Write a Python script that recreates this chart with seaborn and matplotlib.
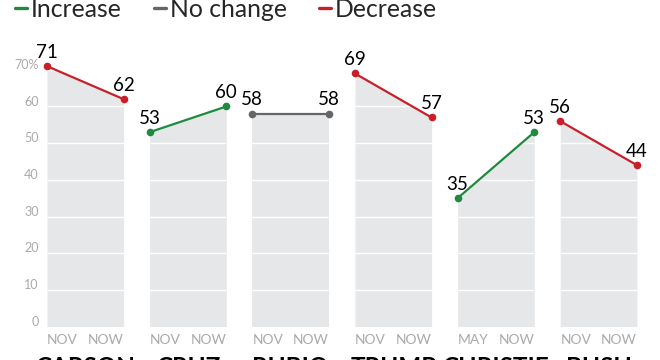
import seaborn as sns
import matplotlib.pyplot as plt
import pandas as pd
from matplotlib.lines import Line2D

# Data
candidates = ['CARSON', 'CRUZ', 'RUBIO', 'TRUMP', 'CHRISTIE', 'BUSH']
start_labels = ['NOV', 'NOV', 'NOV', 'NOV', 'MAY', 'NOV']
end_labels = ['NOW', 'NOW', 'NOW', 'NOW', 'NOW', 'NOW']
before = [71, 53, 58, 69, 35, 56]
now = [62, 60, 58, 57, 53, 44]
y_ticks = [0, 10, 20, 30, 40, 50, 60, 70]

colors = {'Increase': '#1f8a3f', 'No change': '#666666', 'Decrease': '#c8202a'}
fill_color = '#e6e7e9'
tick_color = '#aaaaaa'

rows = []
for name, a, b in zip(candidates, before, now):
    change = 'Increase' if b > a else ('Decrease' if b < a else 'No change')
    rows.append({'candidate': name, 'pos': 0, 'value': a, 'change': change})
    rows.append({'candidate': name, 'pos': 1, 'value': b, 'change': change})
df = pd.DataFrame(rows)

sns.set_style('white')
plt.rcParams['font.family'] = ['Lato', 'DejaVu Sans']

fig, axes = plt.subplots(1, 6, figsize=(6.6, 3.6), dpi=100, sharey=True)
fig.subplots_adjust(left=0.0712, right=0.965, bottom=0.093, top=0.857, wspace=0.34)

for i, (ax, name) in enumerate(zip(axes, candidates)):
    sub = df[df['candidate'] == name]
    change = sub['change'].iloc[0]
    ax.fill_between(sub['pos'], sub['value'], color=fill_color, lw=0, zorder=1)
    for v in y_ticks[1:]:
        ax.axhline(v, color='white', lw=1, zorder=2)
    sns.lineplot(data=sub, x='pos', y='value', color=colors[change], lw=1.6,
                 marker='o', markersize=5.5, markeredgewidth=0, ax=ax,
                 zorder=3, clip_on=False)
    for _, r in sub.iterrows():
        ax.annotate(f"{r['value']}", (r['pos'], r['value']), xytext=(0, 10),
                    textcoords='offset points', ha='center', va='center',
                    fontsize=13.5, color='black')
    ax.annotate(start_labels[i], (0, 0), xytext=(0, -10), textcoords='offset points',
                ha='left', va='center', fontsize=10, color=tick_color)
    ax.annotate(end_labels[i], (1, 0), xytext=(0, -10), textcoords='offset points',
                ha='right', va='center', fontsize=10, color=tick_color)
    ax.annotate(name, (0.5, 0), xytext=(0, -21.5), textcoords='offset points',
                ha='center', va='top', fontsize=17.5, fontweight='bold', color='black',
                annotation_clip=False)
    ax.set_xlim(0, 1)
    ax.set_ylim(0, 75)
    ax.set_xticks([])
    ax.set_yticks([])
    ax.set_xlabel('')
    ax.set_ylabel('')
    sns.despine(ax=ax, left=True, bottom=True)

# y tick labels on the first panel
ax0 = axes[0]
for v in y_ticks:
    label = f'{v}%' if v == y_ticks[-1] else str(v)
    ax0.annotate(label, (0, v), xytext=(-6, 3.5), textcoords='offset points',
                 ha='right', va='center', fontsize=9, color=tick_color,
                 annotation_clip=False)

handles = [Line2D([0], [0], color=c, lw=2.4) for c in colors.values()]
fig.legend(handles, list(colors.keys()), loc='upper left', bbox_to_anchor=(0.0227, 1.006),
           ncol=3, frameon=False, fontsize=17.8, handlelength=0.49, handletextpad=0.15,
           columnspacing=1.3, borderpad=0, borderaxespad=0)

plt.savefig('out.png', dpi=100)
